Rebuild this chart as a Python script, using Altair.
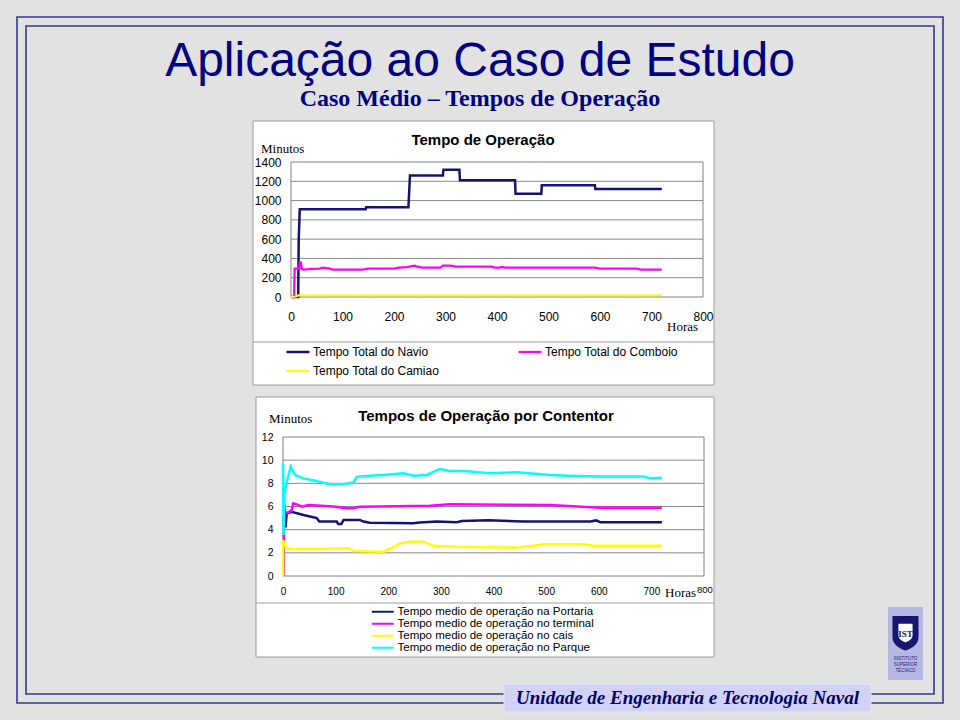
import altair as alt
import pandas as pd

# ---------------- Data: "Tempo de Operação" (minutos vs horas) ----------------
top_series = ["Tempo Total do Navio", "Tempo Total do Comboio", "Tempo Total do Camiao"]
top_colors = ["#14146e", "#ff00ff", "#ffff00"]
top_widths = [2.5, 2, 4]

navio_h = [0, 14, 15, 17, 145, 146, 228, 231, 295, 296, 327, 328, 435, 436, 486, 487, 590, 591, 720]
navio_m = [0, 0, 600, 910, 910, 930, 930, 1260, 1260, 1320, 1320, 1210, 1210, 1070, 1070, 1160, 1160, 1120, 1120]

comboio_h = [0, 6, 7, 16, 17, 19, 21, 25, 35, 55, 62, 68, 75, 82, 140, 145, 150, 200, 210, 225,
             235, 240, 245, 255, 290, 295, 310, 320, 390, 395, 405, 410, 415, 590, 600, 670, 680, 720]
comboio_m = [0, 0, 295, 295, 360, 360, 290, 285, 290, 295, 305, 300, 295, 285, 285, 290, 295, 295, 305, 310,
             320, 325, 315, 305, 305, 325, 325, 315, 315, 305, 305, 312, 305, 305, 295, 295, 285, 285]

camiao_h = [0, 10, 15, 720]
camiao_m = [0, 5, 18, 18]

# ---------------- Data: "Tempos de Operação por Contentor" ----------------
bottom_series = ["Tempo medio de operação na Portaria", "Tempo medio de operação no terminal",
                 "Tempo medio de operação no cais", "Tempo medio de operação no Parque"]
bottom_colors = ["#14146e", "#ff00ff", "#ffff00", "#00ffff"]

portaria_h = [0, 3, 5, 7, 16, 39, 64, 69, 102, 105, 111, 115, 146, 153, 165, 247, 260, 292, 330, 340,
              390, 455, 584, 595, 603, 720]
portaria_v = [5.1, 4.3, 4.3, 5.4, 5.55, 5.27, 5.0, 4.7, 4.7, 4.5, 4.5, 4.84, 4.84, 4.7, 4.6, 4.55, 4.62, 4.7, 4.65, 4.75,
              4.82, 4.7, 4.7, 4.8, 4.65, 4.65]

terminal_h = [1, 2.5, 5, 10, 16.5, 19.6, 26, 35.5, 48, 96, 121, 133, 146, 279, 317, 508, 603, 720]
terminal_v = [0, 6.1, 5.4, 5.5, 5.7, 6.28, 6.19, 5.99, 6.13, 5.99, 5.85, 5.85, 5.98, 6.07, 6.19, 6.13, 5.9, 5.9]

cais_h = [0, 0.5, 1, 5.7, 12, 64, 127, 134, 191, 203, 222, 241, 267, 286, 330, 444, 476, 495, 571, 590, 720]
cais_v = [0, 3.1, 2.96, 2.53, 2.33, 2.33, 2.39, 2.16, 2.1, 2.33, 2.82, 2.96, 2.96, 2.62, 2.53, 2.45, 2.62, 2.74,
          2.74, 2.62, 2.62]

parque_h = [0, 1, 2.5, 7, 14.6, 22.8, 38.6, 64, 89, 115, 134, 140, 165, 191, 229, 248, 273, 298, 317, 343,
            394, 444, 508, 539, 603, 685, 698, 720]
parque_v = [9.73, 3.54, 7.0, 8.1, 9.44, 8.72, 8.43, 8.2, 7.92, 7.92, 8.09, 8.58, 8.66, 8.72, 8.87, 8.66, 8.72,
            9.24, 9.07, 9.07, 8.87, 8.95, 8.72, 8.66, 8.58, 8.58, 8.43, 8.49]

x_ticks = [0, 100, 200, 300, 400, 500, 600, 700, 800]
top_y_ticks = [0, 200, 400, 600, 800, 1000, 1200, 1400]
bottom_y_ticks = [0, 2, 4, 6, 8, 10, 12]


def series_df(names, hs, vs):
    rows = []
    for name, h, v in zip(names, hs, vs):
        for i, (a, b) in enumerate(zip(h, v)):
            rows.append({"hora": a, "valor": b, "serie": name, "i": i})
    return pd.DataFrame(rows)


top_df = series_df(top_series, [navio_h, comboio_h, camiao_h], [navio_m, comboio_m, camiao_m])
bot_df = series_df(bottom_series, [portaria_h, terminal_h, cais_h, parque_h],
                   [portaria_v, terminal_v, cais_v, parque_v])

one = pd.DataFrame({"k": [0]})

SANS = "Liberation Sans"
SERIF = "Liberation Serif"
NAVY = "#000080"
FRAME = "#38388e"

# plot-area pixel ranges
TX = (291, 703)
TY = (297, 162)
BX = (283, 704)
BY = (576, 437)


def top_x():
    return alt.Scale(domain=[0, 800], range=list(TX), nice=False, zero=False)


def top_y():
    return alt.Scale(domain=[0, 1400], range=list(TY), nice=False)


def bot_x():
    return alt.Scale(domain=[0, 800], range=list(BX), nice=False, zero=False)


def bot_y():
    return alt.Scale(domain=[0, 12], range=list(BY), nice=False)


def box(x1, y1, x2, y2, fill=None, stroke=None, sw=1.0):
    kw = {}
    if fill is None:
        kw["fillOpacity"] = 0
    else:
        kw["fill"] = fill
    if stroke is not None:
        kw["stroke"] = stroke
        kw["strokeWidth"] = sw
    return alt.Chart(one).mark_rect(**kw).encode(
        x=alt.value(x1), x2=alt.value(x2), y=alt.value(y1), y2=alt.value(y2))


def hline(x1, x2, y, color, sw=1.0):
    return alt.Chart(one).mark_rule(color=color, strokeWidth=sw).encode(
        x=alt.value(x1), x2=alt.value(x2), y=alt.value(y))


def txt(s, x, y, size, font=SANS, weight="normal", style="normal", color="black",
        align="center", baseline="alphabetic"):
    return alt.Chart(one).mark_text(text=s, fontSize=size, font=font, fontWeight=weight,
                                    fontStyle=style, color=color, align=align,
                                    baseline=baseline).encode(x=alt.value(x), y=alt.value(y))


layers = []

# slide frames
layers.append(box(17, 17, 943, 703, stroke=FRAME, sw=1.6))
layers.append(box(26, 26, 934, 694, stroke=FRAME, sw=1.6))

# titles
layers.append(txt("Aplicação ao Caso de Estudo", 480, 76, 48, color=NAVY))
layers.append(txt("Caso Médio – Tempos de Operação", 480, 106, 24, font=SERIF, weight="bold", color=NAVY))

# chart panels
layers.append(box(253, 121, 714, 385, fill="white", stroke="#9c9c9c", sw=1))
layers.append(hline(253, 714, 342, "#9c9c9c"))
layers.append(box(256, 397, 714, 657, fill="white", stroke="#9c9c9c", sw=1))
layers.append(hline(256, 714, 603, "#9c9c9c"))

# top chart: grid + plot border
layers.append(
    alt.Chart(pd.DataFrame({"v": top_y_ticks[1:-1]})).mark_rule(color="#8a8a8a", strokeWidth=1).encode(
        y=alt.Y("v:Q", scale=top_y(), axis=None), x=alt.value(TX[0]), x2=alt.value(TX[1])))
layers.append(box(TX[0], TY[1], TX[1], TY[0], stroke="#808080", sw=1))

# bottom chart: grid + plot border
layers.append(
    alt.Chart(pd.DataFrame({"v": bottom_y_ticks[1:-1]})).mark_rule(color="#8a8a8a", strokeWidth=1).encode(
        y=alt.Y("v:Q", scale=bot_y(), axis=None), x=alt.value(BX[0]), x2=alt.value(BX[1])))
layers.append(box(BX[0], BY[1], BX[1], BY[0], stroke="#808080", sw=1))

LINE_SYM = "M-4,0L4,0"

top_lines = alt.Chart(top_df).mark_line().encode(
    x=alt.X("hora:Q", scale=top_x(),
            axis=alt.Axis(values=x_ticks, orient="bottom", offset=TY[0] - 720, domain=False, ticks=False,
                          tickSize=0, grid=False, labelPadding=23, labelBaseline="alphabetic",
                          labelFont=SANS, labelFontSize=12, labelColor="black", title=None, format="d",
                          labelFlush=False, labelOverlap=False, zindex=2)),
    y=alt.Y("valor:Q", scale=top_y(),
            axis=alt.Axis(values=top_y_ticks, orient="left", offset=-TX[0], domain=False, ticks=False,
                          tickSize=0, grid=False, labelPadding=10, labelFont=SANS, labelFontSize=12,
                          labelColor="black", title=None, format="d", labelOverlap=False, zindex=2)),
    color=alt.Color("serie:N", scale=alt.Scale(domain=top_series, range=top_colors),
                    legend=alt.Legend(orient="none", legendX=292, legendY=346, columns=2, title=None,
                                      direction="horizontal",
                                      symbolType=LINE_SYM, symbolSize=33, symbolStrokeWidth=2,
                                      labelFont=SANS, labelFontSize=12, labelColor="black",
                                      labelOffset=9, labelLimit=300, columnPadding=74,
                                      rowPadding=7, padding=0, zindex=2)),
    strokeWidth=alt.StrokeWidth("serie:N", scale=alt.Scale(domain=top_series, range=top_widths), legend=None),
    order=alt.Order("i:Q"),
)
layers.append(top_lines)

bot_lines = alt.Chart(bot_df).mark_line(strokeWidth=2.5).encode(
    x=alt.X("hora:Q", scale=bot_x(),
            axis=alt.Axis(values=x_ticks, orient="bottom", offset=BY[0] - 720, domain=False, ticks=False,
                          tickSize=0, grid=False, labelPadding=18, labelBaseline="alphabetic",
                          labelFont=SANS, labelFontSize=10, labelColor="black", title=None, format="d",
                          labelFlush=False, labelOverlap=False, zindex=2,
                          labelExpr="datum.value == 800 ? '' : datum.label")),
    y=alt.Y("valor:Q", scale=bot_y(),
            axis=alt.Axis(values=bottom_y_ticks, orient="left", offset=-BX[0], domain=False, ticks=False,
                          tickSize=0, grid=False, labelPadding=10, labelFont=SANS, labelFontSize=10.5,
                          labelColor="black", title=None, format="d", labelOverlap=False, zindex=2)),
    color=alt.Color("serie:N", scale=alt.Scale(domain=bottom_series, range=bottom_colors),
                    legend=alt.Legend(orient="none", legendX=377, legendY=606, columns=1, title=None,
                                      symbolType=LINE_SYM, symbolSize=30, symbolStrokeWidth=2,
                                      labelFont=SANS, labelFontSize=11.5, labelColor="black",
                                      labelOffset=9, labelLimit=300, rowPadding=-1.2, padding=0,
                                      zindex=2)),
    order=alt.Order("i:Q"),
)
layers.append(bot_lines)

# chart titles and axis captions
layers.append(txt("Tempo de Operação", 483, 145, 15, weight="bold"))
layers.append(txt("Minutos", 261, 153, 13, font=SERIF, align="left"))
layers.append(txt("Horas", 667, 331, 13, font=SERIF, align="left"))

layers.append(txt("Tempos de Operação por Contentor", 486, 421, 15, weight="bold"))
layers.append(txt("Minutos", 269, 423, 13, font=SERIF, align="left"))
layers.append(txt("Horas", 665, 597, 13, font=SERIF, align="left"))
layers.append(txt("800", 697, 593, 9.5, align="left"))

# logo
layers.append(box(888, 607, 923, 680, fill="#b6b6e4"))
SHIELD = "M-1,-1.3L1,-1.3L1,0.3C1,0.9 0.5,1.15 0,1.35C-0.5,1.15 -1,0.9 -1,0.3Z"
layers.append(alt.Chart(one).mark_point(shape=SHIELD, filled=True, size=676, color="#16166e", opacity=1).encode(
    x=alt.value(905.5), y=alt.value(633)))
layers.append(alt.Chart(one).mark_point(shape=SHIELD, filled=True, size=200, color="white", opacity=1).encode(
    x=alt.value(905.5), y=alt.value(633)))
layers.append(txt("IST", 905.5, 637, 9, font=SERIF, weight="bold", color="#16166e"))
layers.append(txt("INSTITUTO", 905.5, 660, 4.5, color="#20207a"))
layers.append(txt("SUPERIOR", 905.5, 666, 4.5, color="#20207a"))
layers.append(txt("TÉCNICO", 905.5, 672, 4.5, color="#20207a"))

# footer
layers.append(box(504, 684, 871, 712, fill="#d2d2f6", stroke="#e6e6ff", sw=1))
layers.append(txt("Unidade de Engenharia e Tecnologia Naval", 687.5, 704, 19, font=SERIF,
                  weight="bold", style="italic", color="#000066"))

chart = alt.layer(*layers).resolve_scale(
    x="independent", y="independent", color="independent", strokeWidth="independent"
).properties(
    width=960, height=720,
    autosize=alt.AutoSizeParams(type="none"),
    padding={"left": 0, "top": 0, "right": 0, "bottom": 0},
    background="#e2e2e2",
).configure_view(stroke=None)

chart.save("out.html", embed_options={"renderer": "svg", "actions": False})
